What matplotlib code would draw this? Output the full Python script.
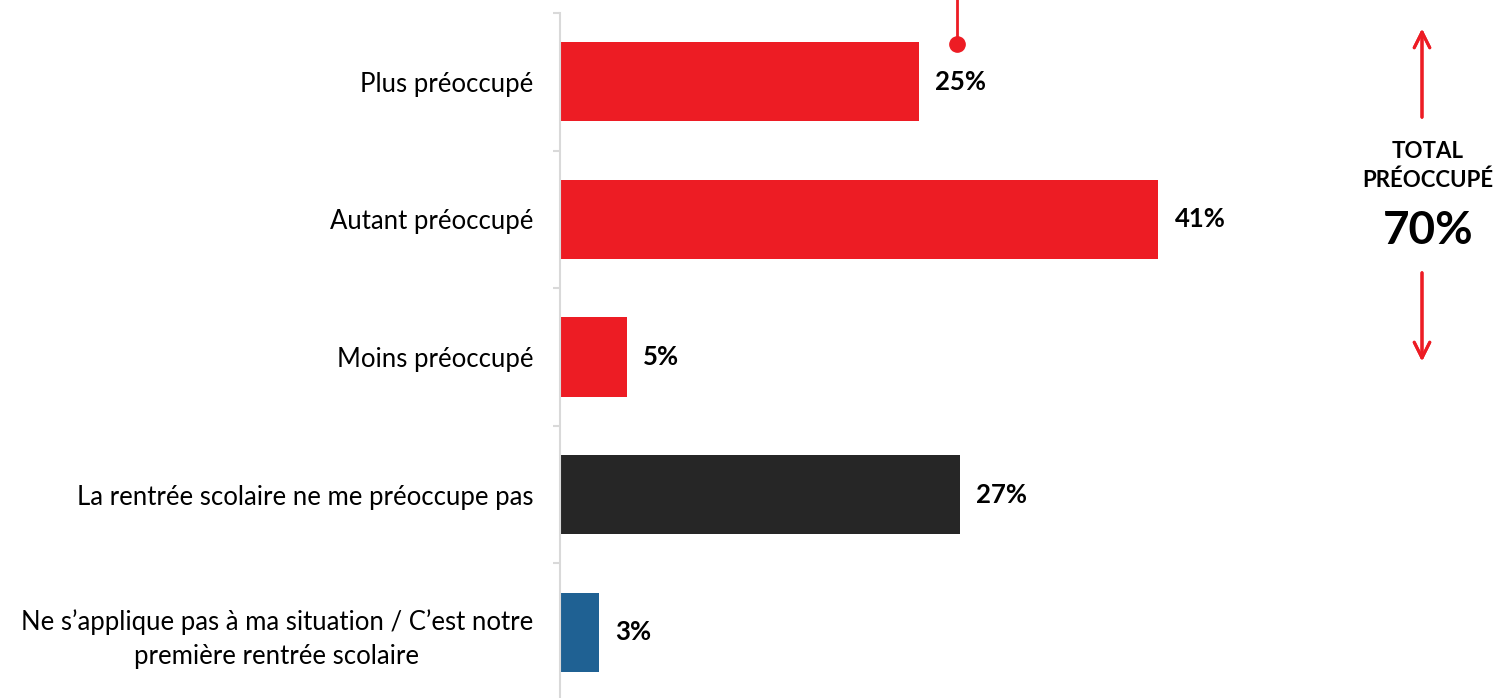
# libraries
import numpy as np
import matplotlib.pyplot as plt
from matplotlib.lines import Line2D

plt.rcParams['font.family'] = ['Lato', 'DejaVu Sans']

# data (bar lengths, labels are rounded)
categories = ['Plus préoccupé',
              'Autant préoccupé',
              'Moins préoccupé',
              'La rentrée scolaire ne me préoccupe pas',
              'Ne s\u2019applique pas à ma situation / C\u2019est notre\npremière rentrée scolaire']
values = [24.6, 41.0, 4.6, 27.4, 2.7]
colors = ['#ED1C24', '#ED1C24', '#ED1C24', '#262626', '#1F6193']
total_label = 'TOTAL\nPRÉOCCUPÉ'
total_value = '70%'

fig = plt.figure(figsize=(14.94, 6.98), dpi=100)
ax = fig.add_axes([559.5/1494, -3/698, 934/1494, 688/698])

y = np.arange(len(categories))
ax.barh(y, values, height=0.575, color=colors)
ax.set_ylim(len(categories) - 0.5, -0.5)
ax.set_xlim(0, 934/14.6)

# value labels
for yi, v in zip(y, values):
    ax.annotate(f'{round(v)}%', (v, yi), xytext=(12, 0), textcoords='offset points',
                ha='left', va='center', fontsize=18.5, fontweight='bold')

# axis styling
for s in ['top', 'right', 'bottom']:
    ax.spines[s].set_visible(False)
ax.spines['left'].set_color('#d9d9d9')
ax.spines['left'].set_linewidth(1.5)
ax.set_xticks([])
ax.set_yticks(y, categories, fontsize=18.5)
ax.set_yticks(np.arange(len(categories)) - 0.5, minor=True)
ax.tick_params(axis='y', which='major', length=0, pad=19)
ax.tick_params(axis='y', which='minor', length=5, color='#d9d9d9', width=1.5)
for lbl in ax.get_yticklabels():
    lbl.set_multialignment('center')
    lbl.set_linespacing(1.45)

# red pointer line with dot at the top
red = '#ED1C24'
fig.add_artist(Line2D([957/1494, 957/1494], [1, 1 - 44/698], color=red, lw=2))
fig.add_artist(Line2D([957/1494], [1 - 44/698], marker='o', markersize=11,
                      color=red))

# total annotation with arrows
ax_x = 1422/1494
fig.add_artist(plt.annotate('', xy=(ax_x, 1 - 26/698), xytext=(ax_x, 1 - 120/698),
                            xycoords='figure fraction',
                            arrowprops=dict(arrowstyle='->', color=red, lw=2.2,
                                            mutation_scale=28)))
fig.add_artist(plt.annotate('', xy=(ax_x, 1 - 364/698), xytext=(ax_x, 1 - 270/698),
                            xycoords='figure fraction',
                            arrowprops=dict(arrowstyle='->', color=red, lw=2.2,
                                            mutation_scale=28)))
fig.text(1428/1494, 1 - 166/698, total_label, ha='center', va='center',
         fontsize=16, fontweight='bold', linespacing=1.45)
fig.text(1428/1494, 1 - 231/698, total_value, ha='center', va='center',
         fontsize=33, fontweight='bold')

plt.savefig('out.png', dpi=100)
